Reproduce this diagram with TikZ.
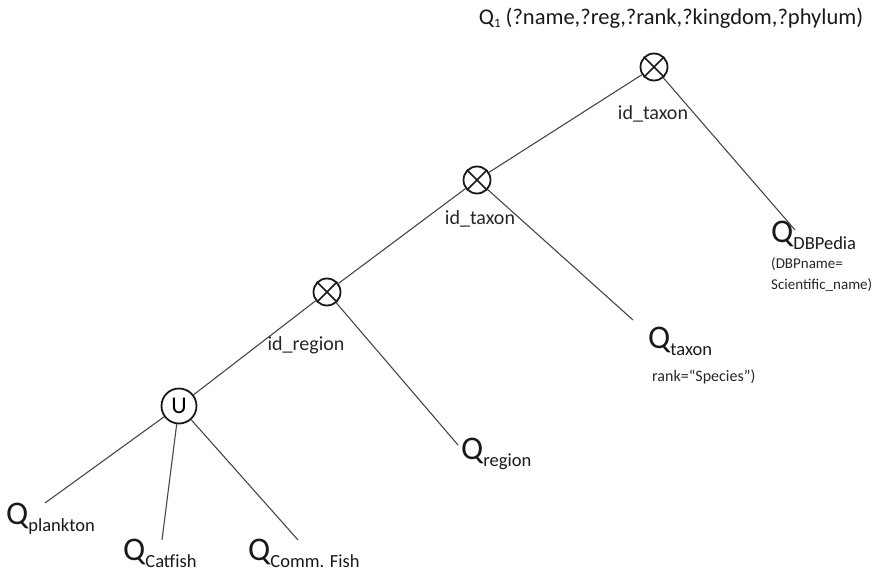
\documentclass[tikz,border=0pt]{standalone}
\usepackage{fontspec}
\setmainfont{Carlito}
% large Q with a lowered subscript name
\newcommand\leafq[1]{{\fontsize{33}{33}\selectfont Q}\raisebox{-7pt}{\fontsize{18.5}{18.5}\selectfont #1}}
\begin{document}
\begin{tikzpicture}[x=1pt,y=-1pt,
  op/.style={circle,draw=black!90,line width=1.8pt,minimum size=27pt,inner sep=0pt},
  unionop/.style={circle,draw=black!90,line width=1.8pt,minimum size=35pt,inner sep=0pt,
    font=\fontsize{24}{24}\selectfont},
  link/.style={draw=black!72,line width=1.1pt},
  leaf/.style={anchor=base west,inner sep=0pt,text=black!90},
  lbl/.style={font=\fontsize{20}{20}\selectfont,inner sep=0pt,text=black!85},
  note/.style={font=\fontsize{15}{15}\selectfont,inner sep=0pt,anchor=west,text=black!85}]
\useasboundingbox (0,0) rectangle (872,572);

% query head
\node[inner sep=0pt,font=\fontsize{22.5}{22.5}\selectfont,text=black!90] (title) at (671,18)
  {Q\raisebox{-3pt}{\fontsize{13}{13}\selectfont 1} (?name,?reg,?rank,?kingdom,?phylum)};

% join and union operators
\node[op] (op1) at (654,67) {};
\node[op] (op2) at (477,180) {};
\node[op] (op3) at (327,292) {};
\node[unionop] (un) at (179,406) {U};
\foreach \n in {op1,op2,op3}
  \draw[line width=1.6pt,black!90] (\n.45) -- (\n.225) (\n.135) -- (\n.315);

% join attributes
\node[lbl] (j1) at (653,114) {id\_taxon};
\node[lbl] (j2) at (480,219) {id\_taxon};
\node[lbl] (j3) at (306,345) {id\_region};

% source queries
\node[leaf] (qdb) at (771,242) {\leafq{DBPedia}};
\node[leaf] (qtax) at (648,348) {\leafq{taxon}};
\node[leaf] (qreg) at (461,459) {\leafq{region}};
\node[leaf] (qpl) at (6,524) {\leafq{plankton}};
\node[leaf] (qcat) at (123,560) {\leafq{Catfish}};
\node[leaf] (qcf) at (248,560) {\leafq{Comm. Fish}};

% selection conditions
\node[note] (cdb1) at (771,264) {(DBPname=};
\node[note] (cdb2) at (771,285) {Scientific\_name)};
\node[note,font=\fontsize{16}{16}\selectfont] (ctax) at (652,377) {rank=“Species”)};

% tree edges
\draw[link] (op1) -- ([shift={(24,-12)}]qdb.base west);
\draw[link] (op1) -- (op2);
\draw[link] (op2) -- (op3);
\draw[link] (op3) -- (un);
\draw[link] (op2) -- ([shift={(-15,-28)}]qtax.base west);
\draw[link] (op3) -- ([shift={(-3,-14)}]qreg.base west);
\draw[link] (un) -- ([shift={(39,-21)}]qpl.base west);
\draw[link] (un) -- ([shift={(39,-20)}]qcat.base west);
\draw[link] (un) -- ([shift={(50,-20)}]qcf.base west);
\end{tikzpicture}
\end{document}
